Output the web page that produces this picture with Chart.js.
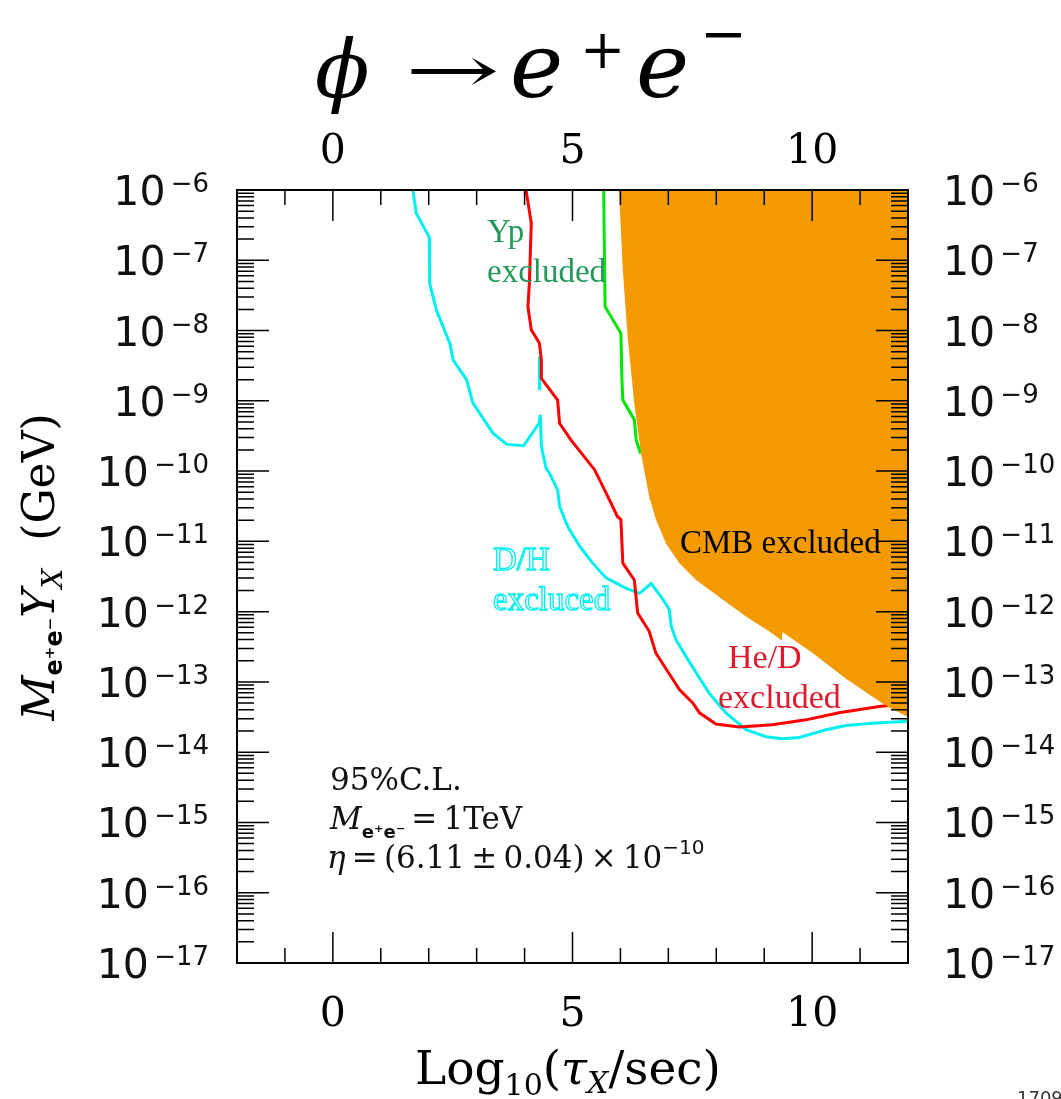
<!DOCTYPE html>
<html>
<head>
<meta charset="utf-8">
<script src="https://cdn.jsdelivr.net/npm/chart.js@4.4.0/dist/chart.umd.min.js"></script>
<style>
  html, body { margin: 0; padding: 0; background: #fff; }
  #wrap { width: 1061px; height: 1099px; position: relative; }
</style>
</head>
<body>
<div id="wrap"><canvas id="chart"></canvas></div>
<script>
// Curves: x = log10(tau/sec), values = log10 of M*Y
const dhX   = [1.67, 1.74, 2.01, 2.02, 2.16, 2.44, 2.51, 2.79, 2.92, 3.34, 3.63, 3.98, 4.30, 4.33, 4.35, 4.45,
               4.52, 4.69, 4.73, 4.90, 5.15, 5.42, 5.70, 6.12, 6.40, 6.64, 6.85, 7.02, 7.06, 7.16, 7.37, 7.58,
               7.85, 8.20, 8.62, 9.04, 9.38, 9.73, 10.29, 10.70, 11.26, 12.0];
const dhLog = [-6.0, -6.33, -6.67, -7.33, -7.71, -8.18, -8.42, -8.70, -9.03, -9.46, -9.62, -9.64, -9.32, -9.20, -9.65, -9.96,
               -10.03, -10.27, -10.50, -10.79, -11.07, -11.31, -11.52, -11.67, -11.74, -11.60, -11.79, -11.97, -12.21, -12.40, -12.64, -12.87,
               -13.16, -13.44, -13.68, -13.78, -13.81, -13.79, -13.68, -13.62, -13.59, -13.56];
// short detached D/H piece
const dhBitX   = [4.31, 4.31];
const dhBitLog = [-8.37, -8.85];

const hedX   = [4.03, 4.14, 4.10, 4.07, 4.14, 4.31, 4.35, 4.35, 4.69, 4.73, 4.97, 5.46, 5.70, 5.94, 6.01, 6.05,
                6.29, 6.36, 6.60, 6.74, 6.92, 7.23, 7.51, 7.65, 7.99, 8.48, 9.17, 9.87, 10.56, 11.40, 11.70];
const hedLog = [-6.0, -6.47, -7.33, -7.66, -7.99, -8.18, -8.42, -8.68, -8.99, -9.32, -9.56, -9.98, -10.31, -10.65, -10.69, -11.31,
                -11.55, -12.02, -12.28, -12.59, -12.78, -13.11, -13.30, -13.44, -13.60, -13.64, -13.61, -13.54, -13.44, -13.35, -13.33];

const ypX   = [5.65, 5.68, 6.01, 6.03, 6.05, 6.29, 6.33, 6.42];
const ypLog = [-6.0, -7.66, -8.04, -8.68, -8.99, -9.27, -9.56, -9.75];

const cmbX   = [5.97, 6.05, 6.15, 6.29, 6.43, 6.60, 6.74, 6.95, 7.23, 7.58, 8.06, 8.62, 9.10, 9.37, 9.38,
                10.01, 10.70, 11.26, 11.57, 12.0];
const cmbLog = [-6.0, -7.14, -8.09, -9.04, -9.75, -10.36, -10.69, -11.03, -11.31, -11.55, -11.79, -12.07, -12.28, -12.41, -12.29,
                -12.59, -12.95, -13.21, -13.35, -13.50];

// axis ticks
const xTickLabels = [0, 5, 10];
const yExponents = [-6, -7, -8, -9, -10, -11, -12, -13, -14, -15, -16, -17];

const toPoints = (xs, logs) => xs.map((x, i) => ({ x: x, y: Math.pow(10, logs[i]) }));

const SERIF = "'DejaVu Serif', serif";
const TIMES = "'Liberation Serif', 'Times New Roman', serif";
const SANS = "'DejaVu Sans', sans-serif";
const THIN = '\u2009';

function drawRich(ctx, x, y, parts, align) {
    let w = 0;
    parts.forEach(p => { ctx.font = p[1]; w += ctx.measureText(p[0]).width; });
    let cx = align === 'right' ? x - w : align === 'center' ? x - w / 2 : x;
    parts.forEach(p => {
        ctx.font = p[1];
        ctx.fillText(p[0], cx, y + (p[2] || 0));
        cx += ctx.measureText(p[0]).width;
    });
}

// text squeezed or stretched horizontally to a given width
function fitText(ctx, text, font, x, y, width) {
    ctx.save();
    ctx.font = font;
    const w = ctx.measureText(text).width;
    ctx.translate(x, y);
    ctx.scale(width / w, 1);
    ctx.fillText(text, 0, 0);
    ctx.restore();
}

const framePlugin = {
    id: 'frame',
    afterDraw(chart) {
        const ctx = chart.ctx;
        const a = chart.chartArea;
        const xs = chart.scales.x;
        const ys = chart.scales.y;
        ctx.save();
        ctx.strokeStyle = '#000';
        ctx.fillStyle = '#000';
        ctx.lineWidth = 1.5;

        // inward ticks
        ctx.beginPath();
        for (let v = -2; v <= 12; v++) {
            const px = xs.getPixelForValue(v);
            const len = v % 5 === 0 ? 31 : 15;
            ctx.moveTo(px, a.bottom); ctx.lineTo(px, a.bottom - len);
            ctx.moveTo(px, a.top); ctx.lineTo(px, a.top + len);
        }
        for (let d = -17; d <= -7; d++) {
            for (let k = 1; k <= 9; k++) {
                const py = ys.getPixelForValue(k * Math.pow(10, d));
                const len = k === 1 ? 32 : 17;
                ctx.moveTo(a.left, py); ctx.lineTo(a.left + len, py);
                ctx.moveTo(a.right, py); ctx.lineTo(a.right - len, py);
            }
        }
        ctx.stroke();
        ctx.lineWidth = 2;
        ctx.strokeRect(a.left, a.top, a.right - a.left, a.bottom - a.top);

        // x tick labels, top and bottom
        ctx.textBaseline = 'alphabetic';
        ctx.textAlign = 'left';
        xTickLabels.forEach(v => {
            const px = xs.getPixelForValue(v);
            drawRich(ctx, px, 163, [[String(v), '41px ' + SERIF]], 'center');
            drawRich(ctx, px, 1026, [[String(v), '41px ' + SERIF]], 'center');
        });

        // y tick labels, left and right
        ctx.fillStyle = '#111';
        yExponents.forEach(e => {
            const py = ys.getPixelForValue(Math.pow(10, e));
            const parts = [['10', '41px ' + SANS, 15], [THIN + '\u2212' + Math.abs(e), '26px ' + SANS, 2]];
            drawRich(ctx, 209, py, parts, 'right');
            drawRich(ctx, 943, py, parts, 'left');
        });
        ctx.fillStyle = '#000';

        // title
        ctx.font = 'italic 80px ' + SERIF;
        ctx.fillText('\u03D5', 315, 97);
        fitText(ctx, '\u2192', '64px ' + SERIF, 405, 92, 95);
        ctx.font = 'italic 90px ' + SERIF;
        ctx.fillText('e', 510, 97);
        ctx.fillText('e', 636, 97);
        ctx.font = '54px ' + SERIF;
        ctx.fillText('+', 580, 68);
        ctx.font = '56px ' + SERIF;
        ctx.fillText('\u2212', 700, 53);

        // x axis title
        drawRich(ctx, 415, 1084, [
            ['Log', '47px ' + SERIF],
            ['10', '30px ' + SERIF, 11],
            ['(', '47px ' + SERIF],
            ['\u03C4', 'italic 47px ' + SERIF],
            ['X', 'italic 30px ' + SERIF, 9],
            ['/sec)', '47px ' + SERIF]
        ], 'left');

        // y axis title, rotated
        ctx.save();
        ctx.translate(54, 567);
        ctx.rotate(-Math.PI / 2);
        drawRich(ctx, 0, 0, [
            ['M', 'italic 44px ' + SERIF],
            ['e\u207Ae\u207B', 'bold 24px ' + SANS, 8],
            ['Y', 'italic 44px ' + SERIF],
            ['X', 'italic 28px ' + SERIF, 8],
            ['  (GeV)', '44px ' + SERIF]
        ], 'center');
        ctx.restore();

        // curve labels
        ctx.fillStyle = '#22995a';
        drawRich(ctx, 487, 242, [['Yp', '33px ' + TIMES]], 'left');
        drawRich(ctx, 487, 282, [['excluded', '33px ' + TIMES]], 'left');

        ctx.font = '33px ' + TIMES;
        ctx.fillStyle = '#fff';
        ctx.strokeStyle = '#00f0f0';
        ctx.lineWidth = 1.3;
        ctx.fillText('D/H', 493, 570);
        ctx.strokeText('D/H', 493, 570);
        ctx.fillText('excluced', 493, 610);
        ctx.strokeText('excluced', 493, 610);

        ctx.fillStyle = '#000';
        drawRich(ctx, 680, 553, [['CMB excluded', '33px ' + TIMES]], 'left');

        ctx.fillStyle = '#e0192d';
        drawRich(ctx, 728, 668, [['He/D', '34px ' + TIMES]], 'left');
        drawRich(ctx, 718, 708, [['excluded', '34px ' + TIMES]], 'left');

        // parameters
        ctx.fillStyle = '#111';
        drawRich(ctx, 330, 790, [['95%C.L.', '31px ' + SERIF]], 'left');
        drawRich(ctx, 330, 829, [
            ['M', 'italic 31px ' + SERIF],
            ['e\u207Ae\u207B', 'bold 18px ' + SANS, 9],
            [THIN + '=' + THIN + '1TeV', '31px ' + SERIF]
        ], 'left');
        drawRich(ctx, 327, 868, [
            ['\u03B7', 'italic 31px ' + SERIF],
            [THIN + '=' + THIN + '(6.11' + THIN + '\u00B1' + THIN + '0.04)' + THIN + '\u00D7' + THIN + '10', '31px ' + SERIF],
            ['\u221210', '20px ' + SANS, -14]
        ], 'left');

        ctx.fillStyle = '#333';
        drawRich(ctx, 1017, 1104, [['1709', '18px ' + SANS]], 'left');
        ctx.restore();
    }
};

const lineStyle = { showLine: true, pointRadius: 0, borderWidth: 3, fill: false, tension: 0 };

new Chart(document.getElementById('chart'), {
    type: 'scatter',
    data: {
        datasets: [
            { label: 'CMB', data: toPoints(cmbX, cmbLog), showLine: true, pointRadius: 0, borderWidth: 0,
              borderColor: '#f29a00', backgroundColor: '#f29a00', fill: 'end', order: 0 },
            { label: 'Yp', data: toPoints(ypX, ypLog), borderColor: '#00e600', order: 1, ...lineStyle },
            { label: 'He/D', data: toPoints(hedX, hedLog), borderColor: '#ff0000', order: 2, ...lineStyle },
            { label: 'D/H', data: toPoints(dhX, dhLog), borderColor: '#00f0f0', order: 3, ...lineStyle },
            { label: 'D/H bit', data: toPoints(dhBitX, dhBitLog), borderColor: '#00f0f0', order: 3, ...lineStyle }
        ]
    },
    options: {
        responsive: true,
        maintainAspectRatio: false,
        animation: false,
        layout: { padding: { left: 237, top: 190, right: 153, bottom: 136 } },
        scales: {
            x: { type: 'linear', min: -2, max: 12, display: false },
            y: { type: 'logarithmic', min: 1e-17, max: 1e-6, display: false }
        },
        plugins: { legend: { display: false }, tooltip: { enabled: false } }
    },
    plugins: [framePlugin]
});
</script>
</body>
</html>
